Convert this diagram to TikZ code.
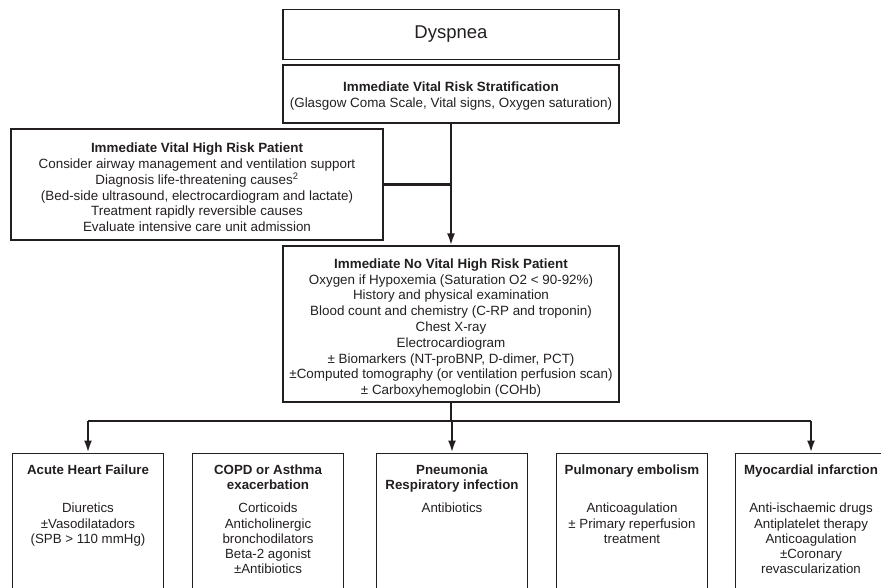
\documentclass[tikz,border=0pt]{standalone}
\usepackage{fontspec}
\setmainfont{Liberation Sans}
\usetikzlibrary{arrows.meta,positioning}
\definecolor{ink}{HTML}{231F20}

\tikzset{
  frame/.style={draw=ink, line width=1.2pt, minimum width=336pt, inner sep=0pt},
  boxtext/.style={align=center, inner sep=0pt, text=ink,
    font=\fontsize{13.4}{15.8}\selectfont},
  leafbox/.style={draw=ink, line width=1.2pt, minimum width=151pt,
    minimum height=150pt, anchor=north},
  leaftext/.style={align=center, anchor=north, inner sep=0pt, text=ink,
    font=\fontsize{13.3}{15.2}\selectfont},
  leaftitle/.style={leaftext, font=\fontsize{13.3}{15.2}\selectfont\bfseries},
  link/.style={draw=ink, line width=2.2pt},
  arrowlink/.style={link, -{Latex[length=12pt,width=8pt]}},
}

\begin{document}
\begin{tikzpicture}[x=1pt,y=-1pt]
    \useasboundingbox (0,0) rectangle (881,587);
    \clip (0,0) rectangle (881,587);

    % Top of the chart
    \node[frame, minimum height=50pt, text=ink, font=\fontsize{18.5}{20}\selectfont] (dyspnea) at (451,34.5) {Dyspnea};
    \node[frame, minimum height=58pt] (strat) at (451,94) {};
    \node[boxtext] (strat-text) at (451,96)
        {\textbf{Immediate Vital Risk Stratification}\\
         (Glasgow Coma Scale, Vital signs, Oxygen saturation)};

    % Vital high risk branch
    \node[frame, minimum width=372pt, minimum height=111pt] (vital) at (197,184.5) {};
    \node[boxtext] (vital-text) at (197,187.5)
        {\textbf{Immediate Vital High Risk Patient}\\
         Consider airway management and ventilation support\\
         Diagnosis life-threatening causes\textsuperscript{2}\\
         (Bed-side ultrasound, electrocardiogram and lactate)\\
         Treatment rapidly reversible causes\\
         Evaluate intensive care unit admission};

    % No vital high risk branch
    \node[frame, minimum height=156pt] (novital) at (451,324) {};
    \node[boxtext] (novital-text) at (451,328)
        {\textbf{Immediate No Vital High Risk Patient}\\
         Oxygen if Hypoxemia (Saturation O2 < 90-92\%)\\
         History and physical examination\\
         Blood count and chemistry (C-RP and troponin)\\
         Chest X-ray\\
         Electrocardiogram\\
         ± Biomarkers (NT-proBNP, D-dimer, PCT)\\
         ±Computed tomography (or ventilation perfusion scan)\\
         ± Carboxyhemoglobin (COHb)};

    % Diagnosis boxes
    \foreach \name/\xpos in {ahf/88, copd/268, pneu/452, pe/632, mi/811} {
        \node[leafbox] (\name) at (\xpos,452.5) {};
    }

    % Titles
    \node[leaftitle, below=12pt of ahf.north] (ahf-title) {Acute Heart Failure};
    \node[leaftitle, below=12pt of copd.north] (copd-title) {COPD or Asthma\\exacerbation};
    \node[leaftitle, below=12pt of pneu.north] (pneu-title) {Pneumonia\\Respiratory infection};
    \node[leaftitle, below=12pt of pe.north] (pe-title) {Pulmonary embolism};
    \node[leaftitle, below=12pt of mi.north] (mi-title) {Myocardial infarction};

    % Treatments
    \node[leaftext, below=50.5pt of ahf.north] (ahf-body) {Diuretics\\±Vasodilatadors\\(SPB > 110 mmHg)};
    \node[leaftext, below=50.5pt of copd.north] (copd-body) {Corticoids\\Anticholinergic\\bronchodilators\\Beta-2 agonist\\±Antibiotics};
    \node[leaftext, below=50.5pt of pneu.north] (pneu-body) {Antibiotics};
    \node[leaftext, below=50.5pt of pe.north] (pe-body) {Anticoagulation\\± Primary reperfusion\\treatment};
    \node[leaftext, below=50.5pt of mi.north] (mi-body) {Anti-ischaemic drugs\\Antiplatelet therapy\\Anticoagulation\\±Coronary\\revascularization};

    % Connectors
    \draw[arrowlink] (strat.south) -- (novital.north);
    \draw[link] (vital.east) -- (vital.east -| strat.south);
    \coordinate (bar) at (451,421);
    \draw[link] (novital.south) -- (bar);
    \draw[link] (ahf.north |- bar) -- (mi.north |- bar);
    \foreach \name in {ahf, pneu, mi} {
        \draw[arrowlink] (\name.north |- bar) -- (\name.north);
    }
\end{tikzpicture}
\end{document}
